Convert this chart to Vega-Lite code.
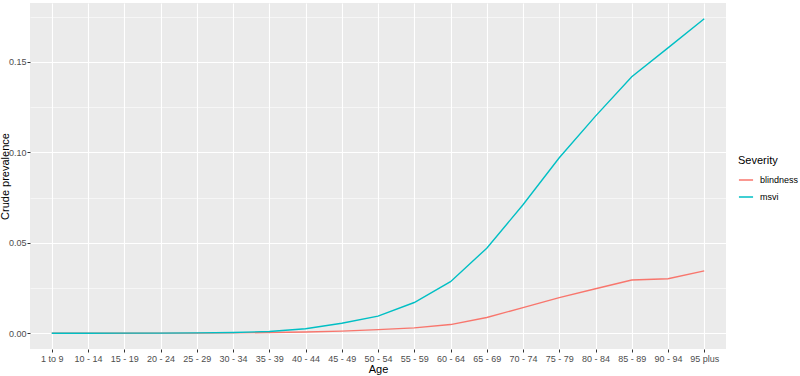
{
  "$schema": "https://vega.github.io/schema/vega-lite/v6.json",
  "width": 696,
  "height": 346,
  "autosize": {"type": "none"},
  "padding": {"left": 30, "top": 3, "right": 74, "bottom": 27},
  "background": "white",
  "config": {
    "view": {"fill": "#EBEBEB", "stroke": null},
    "font": "Liberation Sans",
    "axis": {
      "gridColor": "white", "gridWidth": 1.1, "domain": false,
      "tickColor": "#333333", "tickSize": 3, "tickWidth": 1,
      "labelColor": "#4D4D4D", "labelFontSize": 9, "labelFont": "Liberation Sans",
      "titleFontSize": 11, "titleFontWeight": "normal", "titleColor": "black", "titleFont": "Liberation Sans"
    }
  },
  "data": {"values": [
    {"age": "1 to 9", "severity": "blindness", "prev": 0.0},
    {"age": "10 - 14", "severity": "blindness", "prev": 0.0},
    {"age": "15 - 19", "severity": "blindness", "prev": 0.0},
    {"age": "20 - 24", "severity": "blindness", "prev": 0.00005},
    {"age": "25 - 29", "severity": "blindness", "prev": 0.0001},
    {"age": "30 - 34", "severity": "blindness", "prev": 0.0002},
    {"age": "35 - 39", "severity": "blindness", "prev": 0.0004},
    {"age": "40 - 44", "severity": "blindness", "prev": 0.0007},
    {"age": "45 - 49", "severity": "blindness", "prev": 0.0012},
    {"age": "50 - 54", "severity": "blindness", "prev": 0.002},
    {"age": "55 - 59", "severity": "blindness", "prev": 0.003},
    {"age": "60 - 64", "severity": "blindness", "prev": 0.0048},
    {"age": "65 - 69", "severity": "blindness", "prev": 0.0087},
    {"age": "70 - 74", "severity": "blindness", "prev": 0.0142},
    {"age": "75 - 79", "severity": "blindness", "prev": 0.0197},
    {"age": "80 - 84", "severity": "blindness", "prev": 0.0246},
    {"age": "85 - 89", "severity": "blindness", "prev": 0.0294},
    {"age": "90 - 94", "severity": "blindness", "prev": 0.0301},
    {"age": "95 plus", "severity": "blindness", "prev": 0.0345},
    {"age": "1 to 9", "severity": "msvi", "prev": 0.0},
    {"age": "10 - 14", "severity": "msvi", "prev": 0.0},
    {"age": "15 - 19", "severity": "msvi", "prev": 0.00005},
    {"age": "20 - 24", "severity": "msvi", "prev": 0.0001},
    {"age": "25 - 29", "severity": "msvi", "prev": 0.0002},
    {"age": "30 - 34", "severity": "msvi", "prev": 0.0004},
    {"age": "35 - 39", "severity": "msvi", "prev": 0.001},
    {"age": "40 - 44", "severity": "msvi", "prev": 0.0025},
    {"age": "45 - 49", "severity": "msvi", "prev": 0.0055},
    {"age": "50 - 54", "severity": "msvi", "prev": 0.0095},
    {"age": "55 - 59", "severity": "msvi", "prev": 0.017},
    {"age": "60 - 64", "severity": "msvi", "prev": 0.0285},
    {"age": "65 - 69", "severity": "msvi", "prev": 0.047},
    {"age": "70 - 74", "severity": "msvi", "prev": 0.071},
    {"age": "75 - 79", "severity": "msvi", "prev": 0.097},
    {"age": "80 - 84", "severity": "msvi", "prev": 0.12},
    {"age": "85 - 89", "severity": "msvi", "prev": 0.1418},
    {"age": "90 - 94", "severity": "msvi", "prev": 0.1577},
    {"age": "95 plus", "severity": "msvi", "prev": 0.1738}
  ]},
  "layer": [
    {
      "mark": {"type": "line", "opacity": 0},
      "encoding": {
        "x": {"field": "age", "type": "ordinal", "sort": null, "scale": {"type": "point", "padding": 0.6},
              "axis": {"orient": "top", "grid": true, "ticks": false, "labels": false, "title": null}},
        "y": {"field": "prev", "type": "quantitative", "scale": {"domain": [-0.0087, 0.1825], "nice": false, "zero": false},
              "axis": {"orient": "right", "values": [0.025, 0.075, 0.125, 0.175], "grid": true, "gridWidth": 0.55, "ticks": false, "labels": false, "title": null}}
      }
    },
    {
      "mark": {"type": "line", "strokeWidth": 1.4},
      "encoding": {
        "x": {"field": "age", "type": "ordinal", "sort": null, "scale": {"type": "point", "padding": 0.6},
              "axis": {"orient": "bottom", "grid": false, "labelAngle": 0, "labelPadding": 2, "labelDx": 1, "title": "Age", "titlePadding": 0}},
        "y": {"field": "prev", "type": "quantitative", "scale": {"domain": [-0.0087, 0.1825], "nice": false, "zero": false},
              "axis": {"orient": "left", "values": [0, 0.05, 0.1, 0.15], "format": ".2f", "grid": true, "labelPadding": 1, "title": "Crude prevalence", "titleX": -22, "titleY": 173, "titleBaseline": "alphabetic", "titleAngle": -90}},
        "color": {"field": "severity", "type": "nominal", "title": "Severity",
                  "scale": {"domain": ["blindness", "msvi"], "range": ["#F8766D", "#00BFC4"]},
                  "legend": {"orient": "none", "legendX": 708, "legendY": 152, "symbolType": "stroke", "symbolStrokeWidth": 1.5, "symbolSize": 200,
                             "titleFontSize": 11, "titleFontWeight": "normal", "titleColor": "black", "labelFontSize": 9, "labelColor": "black",
                             "rowPadding": 4, "titlePadding": 6, "labelOffset": 6}}
      }
    }
  ],
  "resolve": {"axis": {"x": "independent", "y": "independent"}}
}
